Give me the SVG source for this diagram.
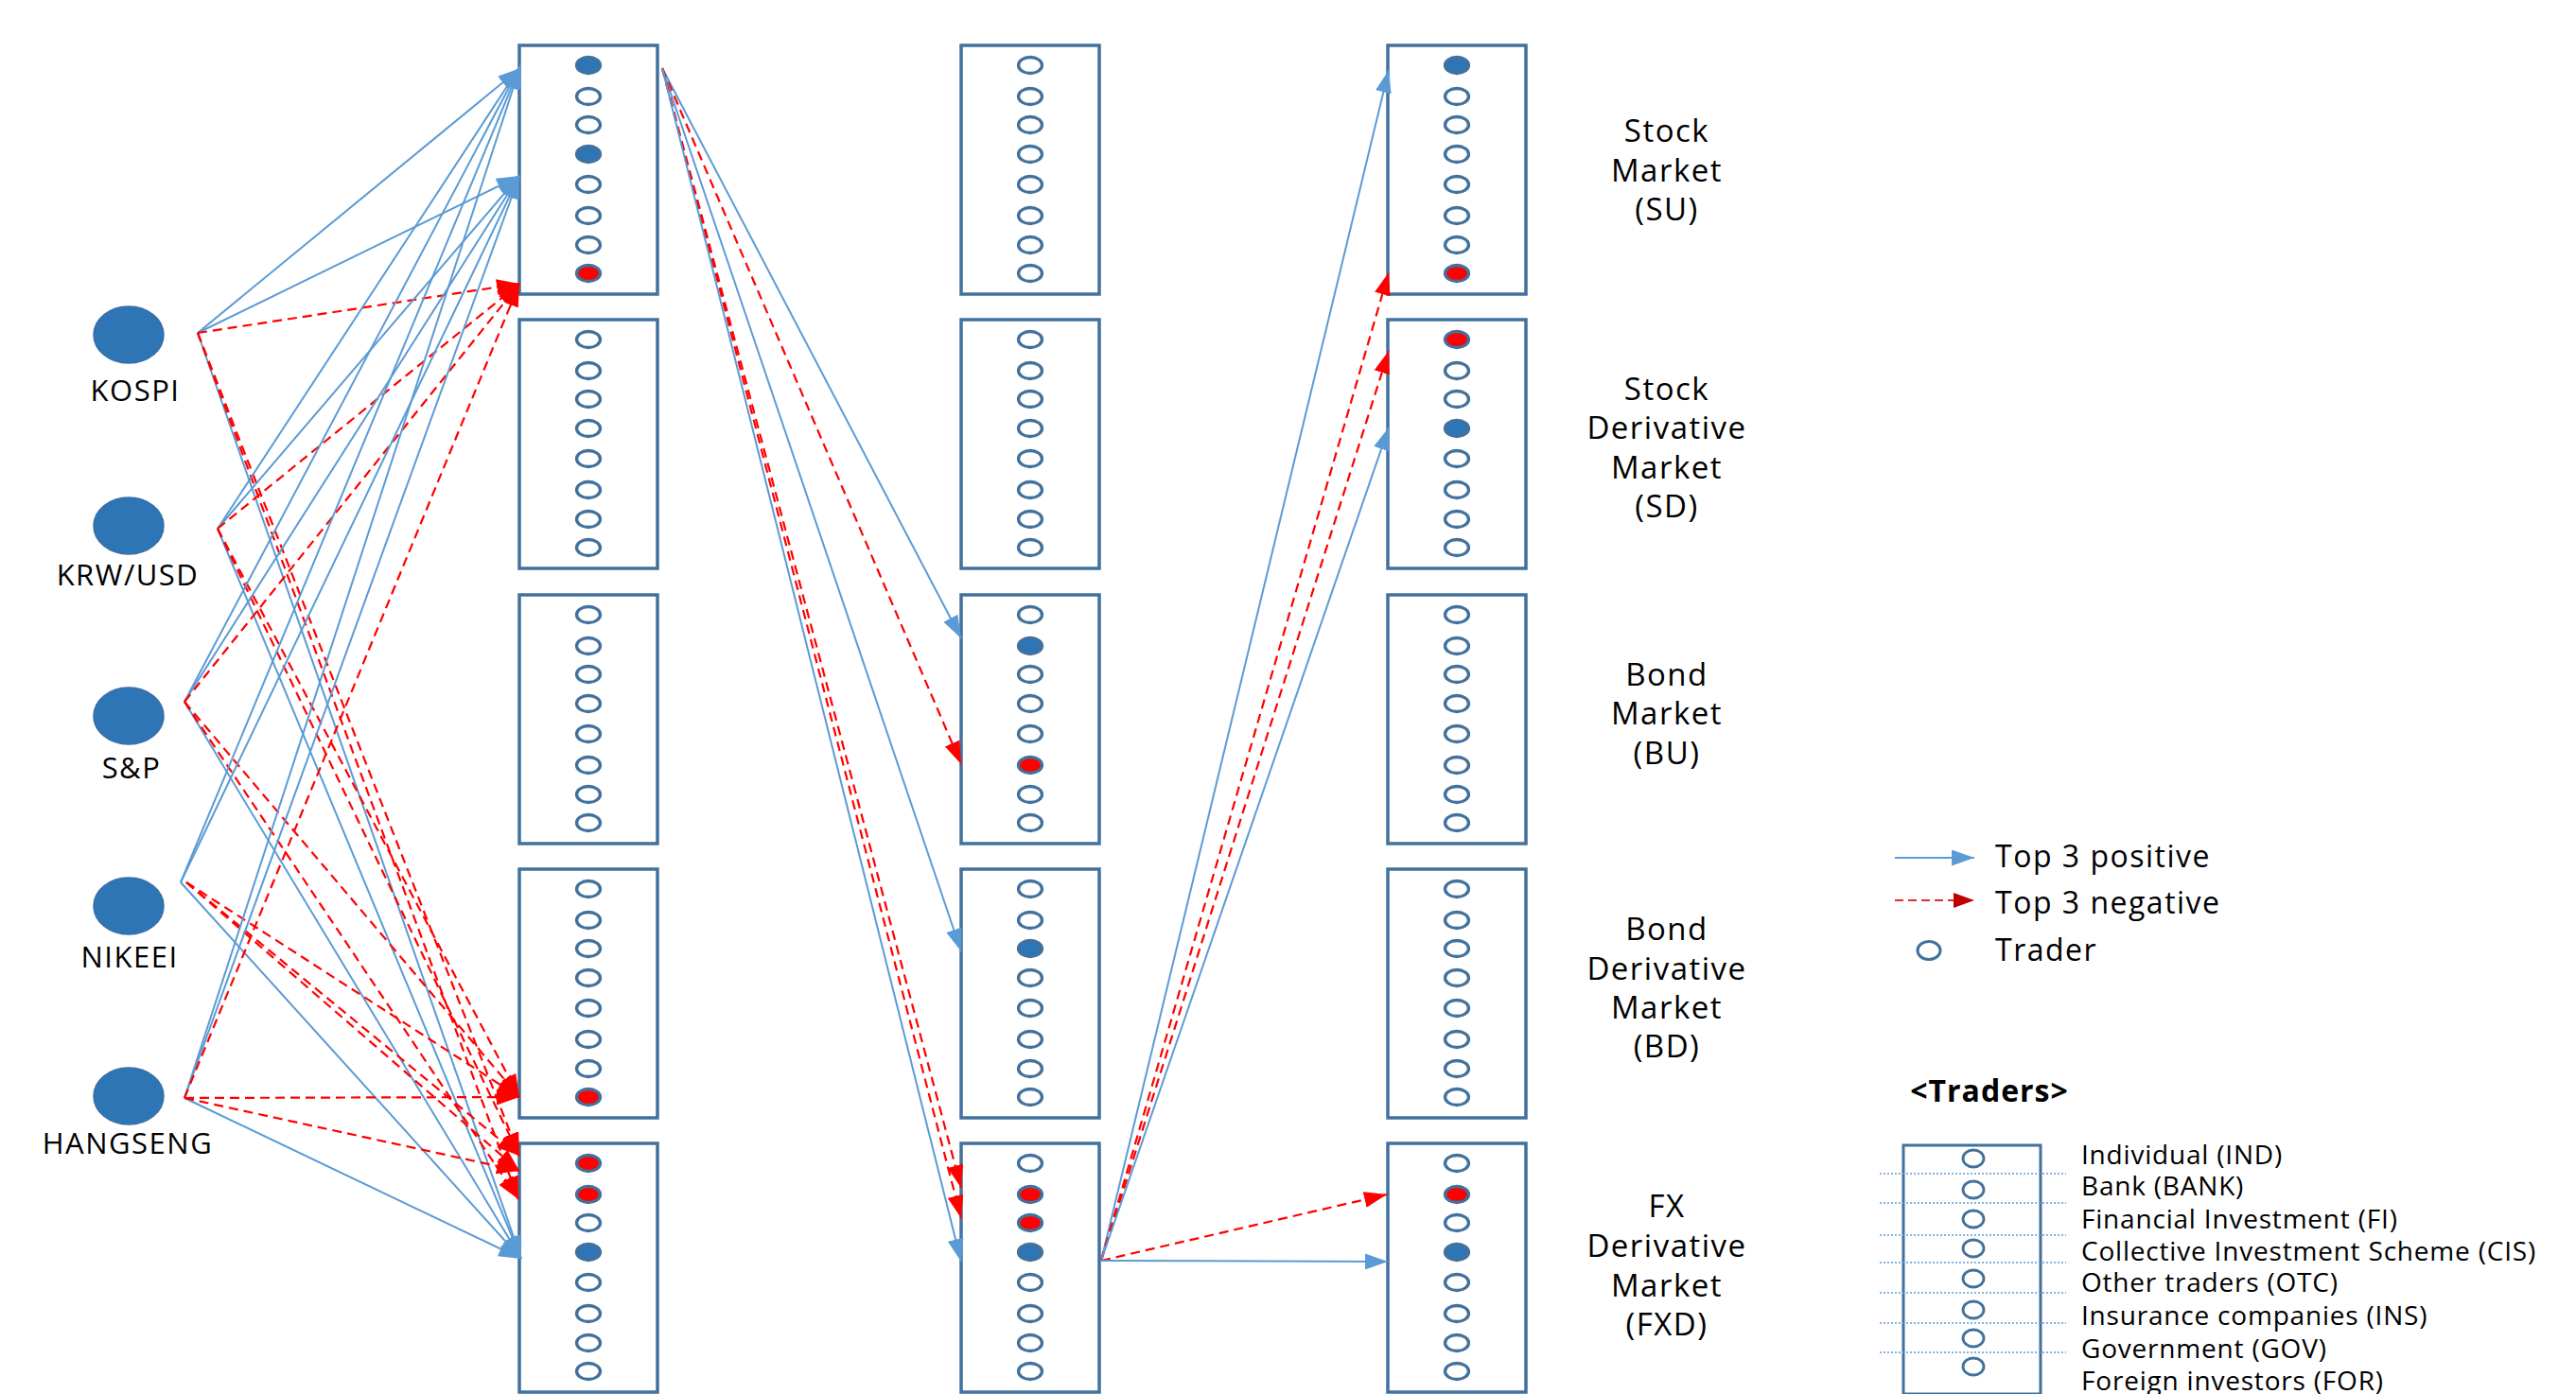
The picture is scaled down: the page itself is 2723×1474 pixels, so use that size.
<svg xmlns="http://www.w3.org/2000/svg" width="2723" height="1474" viewBox="0 0 2723 1474">
<style>
.bg{fill:#ffffff}
.box{fill:#ffffff;stroke:#41719C;stroke-width:3.5}
.tr{fill:#ffffff;stroke:#41719C;stroke-width:3.3}
.tb{fill:#2E75B6;stroke:#41719C;stroke-width:3.3}
.trd{fill:#FF0000;stroke:#41719C;stroke-width:3.3}
.idx{fill:#2E75B6;stroke:#3A6EA5;stroke-width:1.5}
.lbl{font-family:"Open Sans","Noto Sans","Liberation Sans",sans-serif;font-size:31px;letter-spacing:1.5px;fill:#000;text-anchor:middle}
.mk{font-family:"Open Sans","Noto Sans","Liberation Sans",sans-serif;font-size:33px;letter-spacing:1.5px;fill:#000;text-anchor:middle}
.lg{font-family:"Open Sans","Noto Sans","Liberation Sans",sans-serif;font-size:32px;letter-spacing:1.5px;fill:#000}
.lt{font-family:"Open Sans","Noto Sans","Liberation Sans",sans-serif;font-size:28px;letter-spacing:0.8px;fill:#000}
.hd{font-family:"Open Sans","Noto Sans","Liberation Sans",sans-serif;font-size:32px;font-weight:bold;letter-spacing:1px;fill:#000;text-anchor:middle}
.pos{stroke:#5B9BD5;stroke-width:2;fill:none;marker-end:url(#ab)}
.neg{stroke:#FF0000;stroke-width:2.2;stroke-dasharray:10 6;fill:none;marker-end:url(#ar)}
.dot{stroke:#5B9BD5;stroke-width:1.5;stroke-dasharray:2 2}
.lc{fill:#ffffff;stroke:#41719C;stroke-width:2.8}
</style>
<defs>
<marker id="ab" markerUnits="userSpaceOnUse" markerWidth="24" markerHeight="17" refX="24" refY="8.5" orient="auto"><path d="M0,0 L24,8.5 L0,17 z" fill="#5B9BD5"/></marker>
<marker id="ar" markerUnits="userSpaceOnUse" markerWidth="24" markerHeight="17" refX="24" refY="8.5" orient="auto"><path d="M0,0 L24,8.5 L0,17 z" fill="#FF0000"/></marker>
<marker id="ar2" markerUnits="userSpaceOnUse" markerWidth="22" markerHeight="16" refX="22" refY="8" orient="auto"><path d="M0,0 L22,8 L0,16 z" fill="#C00000"/></marker>
</defs>
<rect class="bg" x="0" y="0" width="2723" height="1474"/>

<!-- market boxes -->
<g id="c1r1"><rect class="box" x="549" y="48" width="146" height="263"/>
<ellipse class="tb" cx="622" cy="69" rx="12.5" ry="8.5"/><ellipse class="tr" cx="622" cy="102" rx="12.5" ry="8.5"/><ellipse class="tr" cx="622" cy="132" rx="12.5" ry="8.5"/><ellipse class="tb" cx="622" cy="163" rx="12.5" ry="8.5"/><ellipse class="tr" cx="622" cy="195" rx="12.5" ry="8.5"/><ellipse class="tr" cx="622" cy="228" rx="12.5" ry="8.5"/><ellipse class="tr" cx="622" cy="259" rx="12.5" ry="8.5"/><ellipse class="trd" cx="622" cy="289" rx="12.5" ry="8.5"/></g>
<g id="c1r2"><rect class="box" x="549" y="338" width="146" height="263"/>
<ellipse class="tr" cx="622" cy="359" rx="12.5" ry="8.5"/><ellipse class="tr" cx="622" cy="392" rx="12.5" ry="8.5"/><ellipse class="tr" cx="622" cy="422" rx="12.5" ry="8.5"/><ellipse class="tr" cx="622" cy="453" rx="12.5" ry="8.5"/><ellipse class="tr" cx="622" cy="485" rx="12.5" ry="8.5"/><ellipse class="tr" cx="622" cy="518" rx="12.5" ry="8.5"/><ellipse class="tr" cx="622" cy="549" rx="12.5" ry="8.5"/><ellipse class="tr" cx="622" cy="579" rx="12.5" ry="8.5"/></g>
<g id="c1r3"><rect class="box" x="549" y="629" width="146" height="263"/>
<ellipse class="tr" cx="622" cy="650" rx="12.5" ry="8.5"/><ellipse class="tr" cx="622" cy="683" rx="12.5" ry="8.5"/><ellipse class="tr" cx="622" cy="713" rx="12.5" ry="8.5"/><ellipse class="tr" cx="622" cy="744" rx="12.5" ry="8.5"/><ellipse class="tr" cx="622" cy="776" rx="12.5" ry="8.5"/><ellipse class="tr" cx="622" cy="809" rx="12.5" ry="8.5"/><ellipse class="tr" cx="622" cy="840" rx="12.5" ry="8.5"/><ellipse class="tr" cx="622" cy="870" rx="12.5" ry="8.5"/></g>
<g id="c1r4"><rect class="box" x="549" y="919" width="146" height="263"/>
<ellipse class="tr" cx="622" cy="940" rx="12.5" ry="8.5"/><ellipse class="tr" cx="622" cy="973" rx="12.5" ry="8.5"/><ellipse class="tr" cx="622" cy="1003" rx="12.5" ry="8.5"/><ellipse class="tr" cx="622" cy="1034" rx="12.5" ry="8.5"/><ellipse class="tr" cx="622" cy="1066" rx="12.5" ry="8.5"/><ellipse class="tr" cx="622" cy="1099" rx="12.5" ry="8.5"/><ellipse class="tr" cx="622" cy="1130" rx="12.5" ry="8.5"/><ellipse class="trd" cx="622" cy="1160" rx="12.5" ry="8.5"/></g>
<g id="c1r5"><rect class="box" x="549" y="1209" width="146" height="263"/>
<ellipse class="trd" cx="622" cy="1230" rx="12.5" ry="8.5"/><ellipse class="trd" cx="622" cy="1263" rx="12.5" ry="8.5"/><ellipse class="tr" cx="622" cy="1293" rx="12.5" ry="8.5"/><ellipse class="tb" cx="622" cy="1324" rx="12.5" ry="8.5"/><ellipse class="tr" cx="622" cy="1356" rx="12.5" ry="8.5"/><ellipse class="tr" cx="622" cy="1389" rx="12.5" ry="8.5"/><ellipse class="tr" cx="622" cy="1420" rx="12.5" ry="8.5"/><ellipse class="tr" cx="622" cy="1450" rx="12.5" ry="8.5"/></g>

<g id="c2r1"><rect class="box" x="1016" y="48" width="146" height="263"/>
<ellipse class="tr" cx="1089" cy="69" rx="12.5" ry="8.5"/><ellipse class="tr" cx="1089" cy="102" rx="12.5" ry="8.5"/><ellipse class="tr" cx="1089" cy="132" rx="12.5" ry="8.5"/><ellipse class="tr" cx="1089" cy="163" rx="12.5" ry="8.5"/><ellipse class="tr" cx="1089" cy="195" rx="12.5" ry="8.5"/><ellipse class="tr" cx="1089" cy="228" rx="12.5" ry="8.5"/><ellipse class="tr" cx="1089" cy="259" rx="12.5" ry="8.5"/><ellipse class="tr" cx="1089" cy="289" rx="12.5" ry="8.5"/></g>
<g id="c2r2"><rect class="box" x="1016" y="338" width="146" height="263"/>
<ellipse class="tr" cx="1089" cy="359" rx="12.5" ry="8.5"/><ellipse class="tr" cx="1089" cy="392" rx="12.5" ry="8.5"/><ellipse class="tr" cx="1089" cy="422" rx="12.5" ry="8.5"/><ellipse class="tr" cx="1089" cy="453" rx="12.5" ry="8.5"/><ellipse class="tr" cx="1089" cy="485" rx="12.5" ry="8.5"/><ellipse class="tr" cx="1089" cy="518" rx="12.5" ry="8.5"/><ellipse class="tr" cx="1089" cy="549" rx="12.5" ry="8.5"/><ellipse class="tr" cx="1089" cy="579" rx="12.5" ry="8.5"/></g>
<g id="c2r3"><rect class="box" x="1016" y="629" width="146" height="263"/>
<ellipse class="tr" cx="1089" cy="650" rx="12.5" ry="8.5"/><ellipse class="tb" cx="1089" cy="683" rx="12.5" ry="8.5"/><ellipse class="tr" cx="1089" cy="713" rx="12.5" ry="8.5"/><ellipse class="tr" cx="1089" cy="744" rx="12.5" ry="8.5"/><ellipse class="tr" cx="1089" cy="776" rx="12.5" ry="8.5"/><ellipse class="trd" cx="1089" cy="809" rx="12.5" ry="8.5"/><ellipse class="tr" cx="1089" cy="840" rx="12.5" ry="8.5"/><ellipse class="tr" cx="1089" cy="870" rx="12.5" ry="8.5"/></g>
<g id="c2r4"><rect class="box" x="1016" y="919" width="146" height="263"/>
<ellipse class="tr" cx="1089" cy="940" rx="12.5" ry="8.5"/><ellipse class="tr" cx="1089" cy="973" rx="12.5" ry="8.5"/><ellipse class="tb" cx="1089" cy="1003" rx="12.5" ry="8.5"/><ellipse class="tr" cx="1089" cy="1034" rx="12.5" ry="8.5"/><ellipse class="tr" cx="1089" cy="1066" rx="12.5" ry="8.5"/><ellipse class="tr" cx="1089" cy="1099" rx="12.5" ry="8.5"/><ellipse class="tr" cx="1089" cy="1130" rx="12.5" ry="8.5"/><ellipse class="tr" cx="1089" cy="1160" rx="12.5" ry="8.5"/></g>
<g id="c2r5"><rect class="box" x="1016" y="1209" width="146" height="263"/>
<ellipse class="tr" cx="1089" cy="1230" rx="12.5" ry="8.5"/><ellipse class="trd" cx="1089" cy="1263" rx="12.5" ry="8.5"/><ellipse class="trd" cx="1089" cy="1293" rx="12.5" ry="8.5"/><ellipse class="tb" cx="1089" cy="1324" rx="12.5" ry="8.5"/><ellipse class="tr" cx="1089" cy="1356" rx="12.5" ry="8.5"/><ellipse class="tr" cx="1089" cy="1389" rx="12.5" ry="8.5"/><ellipse class="tr" cx="1089" cy="1420" rx="12.5" ry="8.5"/><ellipse class="tr" cx="1089" cy="1450" rx="12.5" ry="8.5"/></g>

<g id="c3r1"><rect class="box" x="1467" y="48" width="146" height="263"/>
<ellipse class="tb" cx="1540" cy="69" rx="12.5" ry="8.5"/><ellipse class="tr" cx="1540" cy="102" rx="12.5" ry="8.5"/><ellipse class="tr" cx="1540" cy="132" rx="12.5" ry="8.5"/><ellipse class="tr" cx="1540" cy="163" rx="12.5" ry="8.5"/><ellipse class="tr" cx="1540" cy="195" rx="12.5" ry="8.5"/><ellipse class="tr" cx="1540" cy="228" rx="12.5" ry="8.5"/><ellipse class="tr" cx="1540" cy="259" rx="12.5" ry="8.5"/><ellipse class="trd" cx="1540" cy="289" rx="12.5" ry="8.5"/></g>
<g id="c3r2"><rect class="box" x="1467" y="338" width="146" height="263"/>
<ellipse class="trd" cx="1540" cy="359" rx="12.5" ry="8.5"/><ellipse class="tr" cx="1540" cy="392" rx="12.5" ry="8.5"/><ellipse class="tr" cx="1540" cy="422" rx="12.5" ry="8.5"/><ellipse class="tb" cx="1540" cy="453" rx="12.5" ry="8.5"/><ellipse class="tr" cx="1540" cy="485" rx="12.5" ry="8.5"/><ellipse class="tr" cx="1540" cy="518" rx="12.5" ry="8.5"/><ellipse class="tr" cx="1540" cy="549" rx="12.5" ry="8.5"/><ellipse class="tr" cx="1540" cy="579" rx="12.5" ry="8.5"/></g>
<g id="c3r3"><rect class="box" x="1467" y="629" width="146" height="263"/>
<ellipse class="tr" cx="1540" cy="650" rx="12.5" ry="8.5"/><ellipse class="tr" cx="1540" cy="683" rx="12.5" ry="8.5"/><ellipse class="tr" cx="1540" cy="713" rx="12.5" ry="8.5"/><ellipse class="tr" cx="1540" cy="744" rx="12.5" ry="8.5"/><ellipse class="tr" cx="1540" cy="776" rx="12.5" ry="8.5"/><ellipse class="tr" cx="1540" cy="809" rx="12.5" ry="8.5"/><ellipse class="tr" cx="1540" cy="840" rx="12.5" ry="8.5"/><ellipse class="tr" cx="1540" cy="870" rx="12.5" ry="8.5"/></g>
<g id="c3r4"><rect class="box" x="1467" y="919" width="146" height="263"/>
<ellipse class="tr" cx="1540" cy="940" rx="12.5" ry="8.5"/><ellipse class="tr" cx="1540" cy="973" rx="12.5" ry="8.5"/><ellipse class="tr" cx="1540" cy="1003" rx="12.5" ry="8.5"/><ellipse class="tr" cx="1540" cy="1034" rx="12.5" ry="8.5"/><ellipse class="tr" cx="1540" cy="1066" rx="12.5" ry="8.5"/><ellipse class="tr" cx="1540" cy="1099" rx="12.5" ry="8.5"/><ellipse class="tr" cx="1540" cy="1130" rx="12.5" ry="8.5"/><ellipse class="tr" cx="1540" cy="1160" rx="12.5" ry="8.5"/></g>
<g id="c3r5"><rect class="box" x="1467" y="1209" width="146" height="263"/>
<ellipse class="tr" cx="1540" cy="1230" rx="12.5" ry="8.5"/><ellipse class="trd" cx="1540" cy="1263" rx="12.5" ry="8.5"/><ellipse class="tr" cx="1540" cy="1293" rx="12.5" ry="8.5"/><ellipse class="tb" cx="1540" cy="1324" rx="12.5" ry="8.5"/><ellipse class="tr" cx="1540" cy="1356" rx="12.5" ry="8.5"/><ellipse class="tr" cx="1540" cy="1389" rx="12.5" ry="8.5"/><ellipse class="tr" cx="1540" cy="1420" rx="12.5" ry="8.5"/><ellipse class="tr" cx="1540" cy="1450" rx="12.5" ry="8.5"/></g>

<!-- index nodes -->
<g id="kospi"><ellipse class="idx" cx="136" cy="354" rx="37" ry="30"/><text class="lbl" x="143" y="424">KOSPI</text></g>
<g id="krwusd"><ellipse class="idx" cx="136" cy="556" rx="37" ry="30"/><text class="lbl" x="135" y="619">KRW/USD</text></g>
<g id="sp"><ellipse class="idx" cx="136" cy="757" rx="37" ry="30"/><text class="lbl" x="139" y="823">S&amp;P</text></g>
<g id="nikeei"><ellipse class="idx" cx="136" cy="958" rx="37" ry="30"/><text class="lbl" x="137" y="1023">NIKEEI</text></g>
<g id="hangseng"><ellipse class="idx" cx="136" cy="1159" rx="37" ry="30"/><text class="lbl" x="135" y="1220">HANGSENG</text></g>

<!-- market labels -->
<g id="lbl-su"><text class="mk" x="1762" y="150">Stock</text><text class="mk" x="1762" y="192">Market</text><text class="mk" x="1762" y="233">(SU)</text></g>
<g id="lbl-sd"><text class="mk" x="1762" y="423">Stock</text><text class="mk" x="1762" y="464">Derivative</text><text class="mk" x="1762" y="506">Market</text><text class="mk" x="1762" y="547">(SD)</text></g>
<g id="lbl-bu"><text class="mk" x="1762" y="725">Bond</text><text class="mk" x="1762" y="766">Market</text><text class="mk" x="1762" y="808">(BU)</text></g>
<g id="lbl-bd"><text class="mk" x="1762" y="994">Bond</text><text class="mk" x="1762" y="1036">Derivative</text><text class="mk" x="1762" y="1077">Market</text><text class="mk" x="1762" y="1118">(BD)</text></g>
<g id="lbl-fxd"><text class="mk" x="1762" y="1287">FX</text><text class="mk" x="1762" y="1329">Derivative</text><text class="mk" x="1762" y="1371">Market</text><text class="mk" x="1762" y="1412">(FXD)</text></g>

<!-- connectors -->
<g id="connectors">
<line class="pos" x1="209" y1="352" x2="550" y2="72"/>
<line class="pos" x1="209" y1="352" x2="549" y2="186"/>
<line class="pos" x1="209" y1="352" x2="551" y2="1331"/>
<line class="neg" x1="209" y1="352" x2="549" y2="300"/>
<line class="neg" x1="209" y1="352" x2="549" y2="1222"/>
<line class="neg" x1="209" y1="352" x2="548" y2="1268"/>

<line class="pos" x1="230" y1="559" x2="550" y2="70"/>
<line class="pos" x1="230" y1="559" x2="549" y2="186"/>
<line class="pos" x1="230" y1="559" x2="551" y2="1331"/>
<line class="neg" x1="230" y1="559" x2="549" y2="300"/>
<line class="neg" x1="230" y1="559" x2="549" y2="1160"/>
<line class="neg" x1="230" y1="559" x2="549" y2="1222"/>

<line class="pos" x1="195" y1="742" x2="550" y2="70"/>
<line class="pos" x1="195" y1="742" x2="549" y2="186"/>
<line class="pos" x1="195" y1="742" x2="551" y2="1331"/>
<line class="neg" x1="195" y1="742" x2="549" y2="300"/>
<line class="neg" x1="195" y1="742" x2="549" y2="1160"/>
<line class="neg" x1="195" y1="742" x2="548" y2="1268"/>

<line class="pos" x1="191" y1="933" x2="550" y2="70"/>
<line class="pos" x1="191" y1="933" x2="549" y2="186"/>
<line class="pos" x1="191" y1="933" x2="551" y2="1331"/>
<line class="neg" x1="197" y1="933" x2="549" y2="1160"/>
<line class="neg" x1="197" y1="933" x2="549" y2="1222"/>
<line class="neg" x1="197" y1="933" x2="549" y2="1238"/>

<line class="pos" x1="195" y1="1161" x2="550" y2="70"/>
<line class="pos" x1="195" y1="1161" x2="549" y2="186"/>
<line class="pos" x1="195" y1="1161" x2="551" y2="1331"/>
<line class="neg" x1="195" y1="1161" x2="549" y2="300"/>
<line class="neg" x1="195" y1="1161" x2="549" y2="1160"/>
<line class="neg" x1="195" y1="1161" x2="549" y2="1238"/>

<line class="pos" x1="700" y1="72" x2="1016" y2="675"/>
<line class="neg" x1="700" y1="72" x2="1016" y2="808"/>
<line class="pos" x1="700" y1="72" x2="1016" y2="1006"/>
<line class="neg" x1="700" y1="72" x2="1016" y2="1256"/>
<line class="neg" x1="700" y1="72" x2="1016" y2="1288"/>
<line class="pos" x1="700" y1="72" x2="1016" y2="1334"/>

<line class="pos" x1="1164" y1="1333" x2="1468" y2="74"/>
<line class="neg" x1="1164" y1="1333" x2="1468" y2="288"/>
<line class="neg" x1="1164" y1="1333" x2="1468" y2="371"/>
<line class="pos" x1="1164" y1="1333" x2="1468" y2="452"/>
<line class="neg" x1="1164" y1="1333" x2="1466" y2="1263"/>
<line class="pos" x1="1164" y1="1333" x2="1467" y2="1334"/>
</g>

<!-- legend -->
<g id="legend">
<line x1="2003" y1="907" x2="2087" y2="907" stroke="#5B9BD5" stroke-width="2" marker-end="url(#ab)"/>
<text class="lg" x="2109" y="917">Top 3 positive</text>
<line x1="2003" y1="952" x2="2087" y2="952" stroke="#E03030" stroke-width="2" stroke-dasharray="9 5" marker-end="url(#ar2)"/>
<text class="lg" x="2109" y="966">Top 3 negative</text>
<ellipse class="tr" cx="2039" cy="1005" rx="12" ry="9.5" style="stroke-width:3"/>
<text class="lg" x="2109" y="1016">Trader</text>
</g>

<g id="traders-legend">
<text class="hd" x="2103" y="1165">&lt;Traders&gt;</text>
<rect class="box" x="2012" y="1211" width="145" height="263" style="stroke-width:3"/>
<line class="dot" x1="1987" y1="1241" x2="2184" y2="1241"/>
<line class="dot" x1="1987" y1="1272" x2="2184" y2="1272"/>
<line class="dot" x1="1987" y1="1306" x2="2184" y2="1306"/>
<line class="dot" x1="1987" y1="1335" x2="2184" y2="1335"/>
<line class="dot" x1="1987" y1="1367" x2="2184" y2="1367"/>
<line class="dot" x1="1987" y1="1399" x2="2184" y2="1399"/>
<line class="dot" x1="1987" y1="1430" x2="2184" y2="1430"/>
<ellipse class="lc" cx="2086" cy="1225" rx="11" ry="9"/>
<ellipse class="lc" cx="2086" cy="1258" rx="11" ry="9"/>
<ellipse class="lc" cx="2086" cy="1289" rx="11" ry="9"/>
<ellipse class="lc" cx="2086" cy="1320" rx="11" ry="9"/>
<ellipse class="lc" cx="2086" cy="1352" rx="11" ry="9"/>
<ellipse class="lc" cx="2086" cy="1385" rx="11" ry="9"/>
<ellipse class="lc" cx="2086" cy="1415" rx="11" ry="9"/>
<ellipse class="lc" cx="2086" cy="1445" rx="11" ry="9"/>
<text class="lt" x="2200" y="1231">Individual (IND)</text>
<text class="lt" x="2200" y="1264">Bank (BANK)</text>
<text class="lt" x="2200" y="1299">Financial Investment (FI)</text>
<text class="lt" x="2200" y="1333">Collective Investment Scheme (CIS)</text>
<text class="lt" x="2200" y="1366">Other traders (OTC)</text>
<text class="lt" x="2200" y="1401">Insurance companies (INS)</text>
<text class="lt" x="2200" y="1436">Government (GOV)</text>
<text class="lt" x="2200" y="1470">Foreign investors (FOR)</text>
</g>
</svg>
